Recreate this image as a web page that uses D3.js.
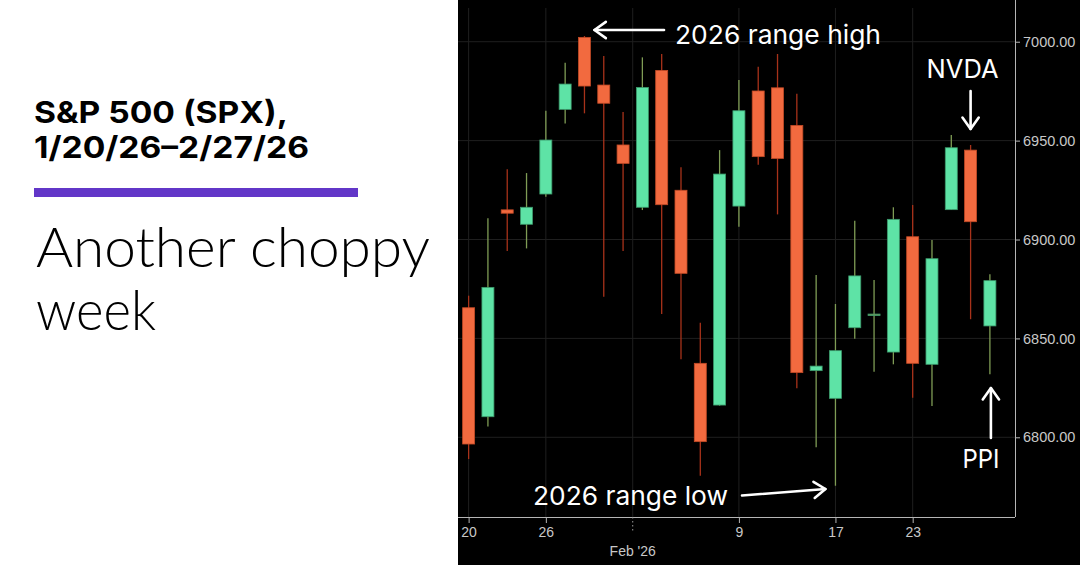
<!DOCTYPE html>
<html><head><meta charset="utf-8">
<script src="https://cdn.jsdelivr.net/npm/d3@7/dist/d3.min.js"></script>
<style>html,body{margin:0;padding:0;background:#fff;overflow:hidden}</style>
</head><body>
<svg id="c" width="1080" height="565"></svg>
<script>
// ---- data ----
const dates = ["2026-01-20","2026-01-21","2026-01-22","2026-01-23","2026-01-26","2026-01-27","2026-01-28","2026-01-29","2026-01-30",
  "2026-02-02","2026-02-03","2026-02-04","2026-02-05","2026-02-06","2026-02-09","2026-02-10","2026-02-11","2026-02-12","2026-02-13",
  "2026-02-17","2026-02-18","2026-02-19","2026-02-20","2026-02-23","2026-02-24","2026-02-25","2026-02-26","2026-02-27"];
const opens  = [6865.5,6810.4,6915.0,6907.7,6923.0,6965.8,7002.2,6978.1,6947.8,6916.3,6985.5,6924.9,6837.4,6816.3,6916.9,6975.1,6976.7,6957.7,6833.7,6819.7,6855.4,6862.0,6843.1,6901.4,6836.9,6915.1,6945.2,6856.3];
const highs  = [6871.6,6910.7,6935.5,6933.6,6965.1,6989.4,7002.9,6992.8,6964.5,6992.1,6993.8,6936.5,6857.9,6945.2,6980.6,6987.4,6993.8,6973.7,6882.1,6867.4,6909.5,6879.5,6916.3,6917.4,6899.7,6952.8,6947.8,6882.4];
const lows   = [6789.0,6805.4,6894.2,6895.5,6921.6,6958.7,6963.8,6871.1,6894.2,6914.9,6862.3,6839.4,6780.6,6816.0,6906.5,6937.8,6912.7,6824.8,6795.0,6775.5,6849.8,6833.2,6836.9,6820.0,6815.8,6915.0,6859.7,6831.9];
const closes = [6796.6,6875.8,6913.3,6916.3,6950.3,6978.6,6977.6,6968.9,6938.5,6976.9,6917.6,6882.9,6797.8,6933.1,6965.1,6941.9,6941.0,6832.7,6836.0,6843.8,6881.6,6862.3,6910.2,6837.4,6890.3,6946.4,6909.0,6879.2];
const yTicks = [6800,6850,6900,6950,7000];
const xTickDates  = ["2026-01-20","2026-01-26","2026-02-09","2026-02-17","2026-02-23"];
const xTickLabels = ["20","26","9","17","23"];
const monthTickAfter = "2026-01-30";
const monthTickLabel = "Feb '26";
const titleLines = ["S&P 500 (SPX),","1/20/26\u20132/27/26"];
const subtitleLines = ["Another choppy","week"];
const notes = {high:"2026 range high", low:"2026 range low", nvda:"NVDA", ppi:"PPI"};

(function(){
const candles = dates.map((d,i)=>({date:d,i,o:opens[i],h:highs[i],l:lows[i],c:closes[i]}));

// ---- layout ----
const svg = d3.select("#c");
const pL = 458, pR = 1015, pT = 0, pB = 517;
const x = d3.scaleLinear().domain([-0.55, 28.3]).range([pL, pR]);
const y = d3.scaleLinear().domain([6759.7, 7021.1]).range([pB, pT]);
const idx = d => dates.indexOf(d);

svg.append("rect").attr("x",0).attr("y",0).attr("width",pL).attr("height",565).attr("fill","#fff");
svg.append("rect").attr("x",pL).attr("y",0).attr("width",1080-pL).attr("height",565).attr("fill","#000");

// grid
const g = svg.append("g");
g.selectAll("line.hg").data(yTicks).join("line")
  .attr("x1",pL).attr("x2",pR).attr("y1",d=>y(d)).attr("y2",d=>y(d))
  .attr("stroke","#1f1f1f").attr("stroke-width",1);
const vgrid = xTickDates.map(idx).concat([idx(monthTickAfter)+0.5]);
g.selectAll("line.vg").data(vgrid).join("line")
  .attr("x1",d=>x(d)).attr("x2",d=>x(d)).attr("y1",pT+8).attr("y2",pB)
  .attr("stroke","#1f1f1f").attr("stroke-width",1);

// axes
const yAxis = d3.axisRight(y).tickValues(yTicks).tickFormat(d3.format(".2f")).tickSize(5).tickPadding(3);
const ya = svg.append("g").attr("transform",`translate(${pR},0)`).call(yAxis);
ya.select(".domain").attr("d",`M0.5,0V${pB}`).attr("stroke","#b5b5b5");
ya.selectAll(".tick line").attr("stroke","#b5b5b5");
ya.selectAll("text").attr("fill","#c8c8c8").attr("font-family","Liberation Sans, Arial, sans-serif").attr("font-size",14.5);

const xAxis = d3.axisBottom(x).tickValues(xTickDates.map(idx)).tickFormat((d,i)=>xTickLabels[i]).tickSize(6).tickPadding(4);
const xa = svg.append("g").attr("transform",`translate(0,${pB})`).call(xAxis);
xa.select(".domain").attr("d",`M${pL},0.5H${pR}`).attr("stroke","#b5b5b5");
xa.selectAll(".tick line").attr("stroke","#b5b5b5");
xa.selectAll("text").attr("fill","#c8c8c8").attr("font-family","Liberation Sans, Arial, sans-serif").attr("font-size",14);

// month tick (dotted)
const mx = x(idx(monthTickAfter)+0.5);
svg.append("line").attr("x1",mx).attr("x2",mx).attr("y1",pB).attr("y2",pB+14)
  .attr("stroke","#9a9a9a").attr("stroke-dasharray","1.5,2.5");
svg.append("text").attr("x",mx).attr("y",pB+39).attr("text-anchor","middle")
  .attr("fill","#c8c8c8").attr("font-family","Liberation Sans, Arial, sans-serif").attr("font-size",14).text(monthTickLabel);

// candles
const bw = 12;
const up = d => d.c >= d.o;
const cg = svg.append("g");
cg.selectAll("line.w").data(candles).join("line")
  .attr("x1",d=>x(d.i)).attr("x2",d=>x(d.i)).attr("y1",d=>y(d.h)).attr("y2",d=>y(d.l))
  .attr("stroke",d=>up(d)?"#7f9c55":"#a8321a").attr("stroke-width",1.3);
cg.selectAll("rect.b").data(candles).join("rect")
  .attr("x",d=>x(d.i)-bw/2).attr("width",bw)
  .attr("y",d=>y(Math.max(d.o,d.c)))
  .attr("height",d=>Math.max(1.5, Math.abs(y(d.o)-y(d.c))))
  .attr("fill",d=>{const hgt=Math.abs(y(d.o)-y(d.c)); if(hgt<1.5) return "#7f9c55"; return up(d)?"#5ee3a6":"#f26a3f";})
  .attr("stroke",d=>up(d)?"#3c9a6c":"#c24a26").attr("stroke-width",0.8);

// annotations
const ann = svg.append("g").attr("fill","#fff").attr("font-family","Inter, Lato, 'Open Sans', sans-serif").attr("font-size",26);
const arrowStyle = s => s.attr("stroke","#fff").attr("stroke-width",2.6).attr("fill","none").attr("stroke-linecap","round").attr("stroke-linejoin","round");
function arrow(x1,y1,x2,y2){
  const a = Math.atan2(y2-y1,x2-x1), L=14, W=0.62;
  ann.append("line").attr("x1",x1).attr("y1",y1).attr("x2",x2).attr("y2",y2).call(arrowStyle);
  ann.append("polyline").attr("points",[
    [x2-L*Math.cos(a-W), y2-L*Math.sin(a-W)],[x2,y2],[x2-L*Math.cos(a+W), y2-L*Math.sin(a+W)]].map(p=>p.join(",")).join(" "))
    .call(arrowStyle);
}
const hiV = d3.max(highs), hiI = highs.indexOf(hiV);
ann.append("text").attr("x",675).attr("y",44).attr("textLength",206).attr("lengthAdjust","spacingAndGlyphs").text(notes.high);
arrow(664, y(hiV)-6, x(hiI)+10, y(hiV)-6);
const loV = d3.min(lows), loI = lows.indexOf(loV);
ann.append("text").attr("x",533).attr("y",505).attr("textLength",195).attr("lengthAdjust","spacingAndGlyphs").text(notes.low);
arrow(742, 495.5, x(loI)-10, 489);
const nvI = idx("2026-02-26");
ann.append("text").attr("x",x(nvI)-8).attr("y",78).attr("text-anchor","middle").attr("textLength",72).attr("lengthAdjust","spacingAndGlyphs").text(notes.nvda);
arrow(x(nvI), 91, x(nvI), 129);
const ppI = idx("2026-02-27");
ann.append("text").attr("x",x(ppI)-9).attr("y",468).attr("text-anchor","middle").attr("textLength",37).attr("lengthAdjust","spacingAndGlyphs").text(notes.ppi);
arrow(x(ppI)+1, 438, x(ppI)+1, 388);

// left panel text
const tl = svg.append("g").attr("fill","#000");
tl.append("text").attr("x",34).attr("y",123).attr("font-family","Inter, 'Liberation Sans', Arial, sans-serif").attr("font-weight",700).attr("font-size",30)
  .attr("textLength",254).attr("lengthAdjust","spacingAndGlyphs").text(titleLines[0]);
tl.append("text").attr("x",34).attr("y",158).attr("font-family","Inter, 'Liberation Sans', Arial, sans-serif").attr("font-weight",700).attr("font-size",30)
  .attr("textLength",275).attr("lengthAdjust","spacingAndGlyphs").text(titleLines[1]);
svg.append("rect").attr("x",34).attr("y",188).attr("width",324).attr("height",9).attr("fill","#6236c8");
tl.append("text").attr("x",36).attr("y",267).attr("font-family","Lato, Inter, 'Open Sans', sans-serif").attr("font-weight",300).attr("font-size",55)
  .attr("textLength",394).attr("lengthAdjust","spacingAndGlyphs").text(subtitleLines[0]);
tl.append("text").attr("x",36).attr("y",330).attr("font-family","Lato, Inter, 'Open Sans', sans-serif").attr("font-weight",300).attr("font-size",55)
  .attr("textLength",120).attr("lengthAdjust","spacingAndGlyphs").text(subtitleLines[1]);
})();
</script>
</body></html>
